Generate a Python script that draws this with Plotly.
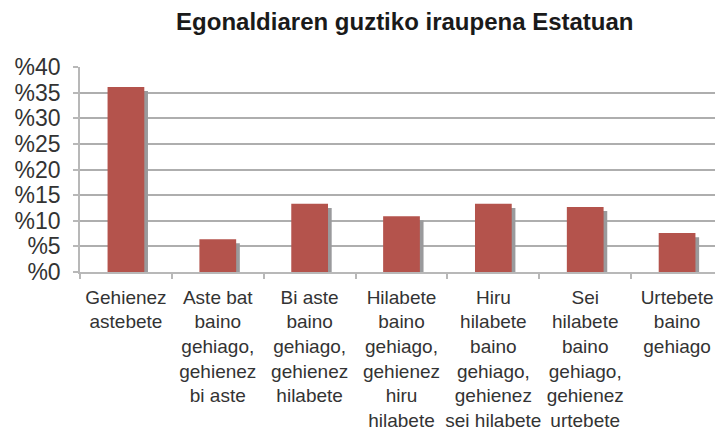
import plotly.graph_objects as go

categories = [
    "Gehienez<br>astebete",
    "Aste bat<br>baino<br>gehiago,<br>gehienez<br>bi aste",
    "Bi aste<br>baino<br>gehiago,<br>gehienez<br>hilabete",
    "Hilabete<br>baino<br>gehiago,<br>gehienez<br>hiru<br>hilabete",
    "Hiru<br>hilabete<br>baino<br>gehiago,<br>gehienez<br>sei hilabete",
    "Sei<br>hilabete<br>baino<br>gehiago,<br>gehienez<br>urtebete",
    "Urtebete<br>baino<br>gehiago",
]
values = [36.1, 6.4, 13.3, 10.9, 13.3, 12.7, 7.6]
tick_vals = [0, 5, 10, 15, 20, 25, 30, 35, 40]
tick_text = ["%0", "%5", "%10", "%15", "%20", "%25", "%30", "%35", "%40"]
title_text = "Egonaldiaren guztiko iraupena Estatuan"

fig = go.Figure()
# shadow
fig.add_trace(go.Bar(
    x=categories, y=values, base=-0.8, width=0.4, offset=-0.16,
    marker=dict(color="#9a9a9c", line=dict(width=0)), hoverinfo="skip",
))
fig.add_trace(go.Bar(
    x=categories, y=values, width=0.4, offset=-0.2,
    marker=dict(color="#b4534c", line=dict(width=0)), hoverinfo="skip",
))

fig.update_layout(
    width=715, height=427,
    margin=dict(l=72, r=0, t=59, b=163),
    paper_bgcolor="white", plot_bgcolor="white",
    barmode="overlay", showlegend=False,
    title=dict(text="<b>" + title_text + "</b>", x=0.555, xanchor="center",
               y=0.968, yanchor="middle",
               font=dict(family="Liberation Sans, Arial, sans-serif", size=24, color="#1a1a1a")),
    font=dict(family="Liberation Sans, Arial, sans-serif", color="#333333"),
)
fig.update_xaxes(
    type="category", tickson="boundaries", ticks="outside", ticklen=5,
    tickcolor="#b8b8b8", tickwidth=1.5, tickangle=0, automargin=False,
    showline=True, linecolor="#b8b8b8", linewidth=1.5,
    showgrid=False, tickfont=dict(size=19, color="#333333"),
    ticklabelstandoff=7,
    range=[-0.5, 6.5], fixedrange=True,
)
fig.update_yaxes(
    range=[0, 40], tickvals=tick_vals, ticktext=tick_text, automargin=False,
    ticks="outside", ticklen=5, tickcolor="#b8b8b8", tickwidth=1.5,
    showline=True, linecolor="#b8b8b8", linewidth=1.5,
    showgrid=True, gridcolor="#aeaeae", gridwidth=1.5,
    tickfont=dict(size=23, color="#333333"), ticklabelstandoff=8,
    zeroline=False,
)
fig.write_html("out.html")
